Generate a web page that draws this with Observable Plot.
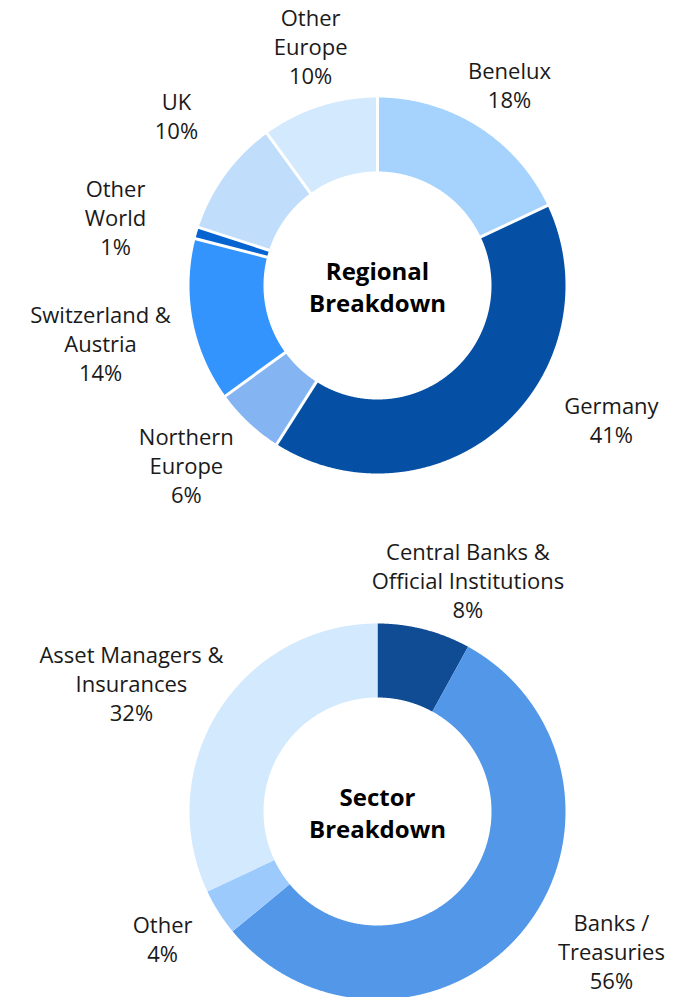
<!DOCTYPE html>
<html>
<head>
<meta charset="utf-8">
<script src="https://cdn.jsdelivr.net/npm/d3@7"></script>
<script src="https://cdn.jsdelivr.net/npm/@observablehq/plot@0.6"></script>
<style>
  html, body { margin: 0; padding: 0; background: #fff; }
  #chart svg { display: block; }
</style>
</head>
<body>
<div id="chart"></div>
<script>
// ---- Data ----
const regionNames = ["Benelux", "Germany", "Northern Europe", "Switzerland & Austria", "Other World", "UK", "Other Europe"];
const regionLabels = ["Benelux", "Germany", "Northern\nEurope", "Switzerland &\nAustria", "Other\nWorld", "UK", "Other\nEurope"];
const regionValues = [18, 41, 6, 14, 1, 10, 10];
const regionColors = ["#a5d3fd", "#0550a4", "#84b4f2", "#3494fe", "#0564d0", "#c0ddfc", "#d3e9fd"];

const sectorNames = ["Central Banks & Official Institutions", "Banks / Treasuries", "Other", "Asset Managers & Insurances"];
const sectorLabels = ["Central Banks &\nOfficial Institutions", "Banks /\nTreasuries", "Other", "Asset Managers &\nInsurances"];
const sectorValues = [8, 56, 4, 32];
const sectorColors = ["#104c94", "#5297e8", "#9ccafd", "#d3e9fd"];

// ---- Layout (label placement: angle nudge in degrees, distance in radii) ----
const regionLabelNudge = [1.1, -18.5, 3.3, -1.2, -1.9, 3.9, 2.3];
const regionLabelDist = [1.272, 1.438, 1.402, 1.506, 1.438, 1.394, 1.315];
const sectorLabelNudge = [7.1, -8.5, 1.5, -5.1];
const sectorLabelDist = [1.312, 1.453, 1.332, 1.473];

const W = 673;
const R = 188;          // outer radius in px
const INNER = 114 / R;  // inner radius as fraction

function donut({names, labels, values, colors, nudge, dist, title, height, cy, separator}) {
  const total = d3.sum(values);
  let acc = 0;
  const slices = values.map((v, i) => {
    const a0 = acc / total * 2 * Math.PI;
    acc += v;
    const a1 = acc / total * 2 * Math.PI;
    return {name: names[i], label: labels[i], value: v, a0, a1, i};
  });
  const pts = [];
  const step = Math.PI / 720;
  for (const s of slices) {
    const n = Math.max(2, Math.ceil((s.a1 - s.a0) / step));
    for (let k = 0; k <= n; k++) {
      const a = s.a0 + (s.a1 - s.a0) * k / n;
      pts.push({name: s.name, x: Math.sin(a), y: -Math.cos(a)});
    }
    for (let k = n; k >= 0; k--) {
      const a = s.a0 + (s.a1 - s.a0) * k / n;
      pts.push({name: s.name, x: INNER * Math.sin(a), y: -INNER * Math.cos(a)});
    }
  }
  const seps = slices.map(s => ({a: s.a0}));
  const labs = slices.map(s => {
    const a = (s.a0 + s.a1) / 2 + nudge[s.i] * Math.PI / 180;
    return {
      text: s.label + "\n" + s.value + "%",
      x: dist[s.i] * Math.sin(a),
      y: -dist[s.i] * Math.cos(a)
    };
  });
  const cx = 377;
  return Plot.plot({
    width: W,
    height,
    margin: 0,
    style: {background: "#fff", overflow: "visible"},
    x: {domain: [-cx / R, (W - cx) / R], range: [0, W], axis: null},
    y: {domain: [-cy / R, (height - cy) / R], range: [0, height], axis: null},
    color: {domain: names, range: colors},
    marks: [
      Plot.line(pts, {x: "x", y: "y", z: "name", fill: "name", stroke: "none", curve: "linear-closed"}),
      separator > 0 ? Plot.link(seps, {
        x1: d => INNER * 0.98 * Math.sin(d.a), y1: d => -INNER * 0.98 * Math.cos(d.a),
        x2: d => 1.01 * Math.sin(d.a), y2: d => -1.01 * Math.cos(d.a),
        stroke: "white", strokeWidth: separator
      }) : null,
      Plot.text(labs, {
        x: "x", y: "y", text: "text", dy: -2,
        fontFamily: "Open Sans", fontSize: 22, lineHeight: 1.32,
        fill: "#1a1a1a", textAnchor: "middle", lineAnchor: "middle"
      }),
      Plot.text([title], {
        x: () => 0, y: () => 0, text: d => d,
        fontFamily: "Open Sans", fontSize: 24, fontWeight: "bold", lineHeight: 1.35,
        fill: "#000", textAnchor: "middle", lineAnchor: "middle"
      })
    ]
  });
}

const regionChart = donut({
  names: regionNames, labels: regionLabels, values: regionValues, colors: regionColors,
  nudge: regionLabelNudge, dist: regionLabelDist,
  title: "Regional\nBreakdown", height: 510, cy: 285, separator: 3
});
const sectorChart = donut({
  names: sectorNames, labels: sectorLabels, values: sectorValues, colors: sectorColors,
  nudge: sectorLabelNudge, dist: sectorLabelDist,
  title: "Sector\nBreakdown", height: 487, cy: 301, separator: 0
});
document.getElementById("chart").append(regionChart, sectorChart);
</script>
</body>
</html>
